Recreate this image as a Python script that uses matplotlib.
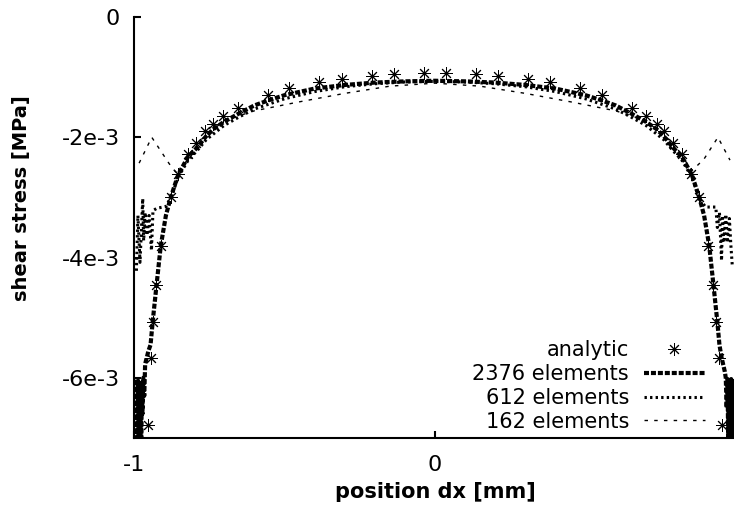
import matplotlib
matplotlib.use("Agg")
import matplotlib.pyplot as plt
from matplotlib.ticker import FixedLocator, FixedFormatter

plt.rcParams['font.family'] = ['DejaVu Sans']
plt.rcParams['axes.unicode_minus'] = False
plt.rcParams['lines.scale_dashes'] = False

# ---- data (stress values in 1e-3 MPa) ----
analytic_x = [-0.954, -0.945, -0.938, -0.927, -0.911, -0.878, -0.853, -0.820, -0.794, -0.764,
              -0.739, -0.703, -0.655, -0.556, -0.484, -0.384, -0.310, -0.210, -0.136, -0.037,
              0.036, 0.135, 0.209, 0.309, 0.382, 0.482, 0.555, 0.655, 0.702, 0.736,
              0.761, 0.791, 0.819, 0.850, 0.878, 0.907, 0.924, 0.935, 0.944, 0.954]
analytic_y = [-6.78, -5.67, -5.07, -4.45, -3.81, -3.00, -2.61, -2.27, -2.09, -1.895,
              -1.772, -1.645, -1.505, -1.303, -1.188, -1.088, -1.038, -0.978, -0.950, -0.938,
              -0.938, -0.950, -0.980, -1.038, -1.088, -1.188, -1.300, -1.505, -1.650, -1.772,
              -1.895, -2.090, -2.272, -2.617, -2.995, -3.812, -4.455, -5.070, -5.670, -6.780]

e2376_x = [-0.992, -0.990, -0.988, -0.986, -0.984, -0.982, -0.980, -0.978, -0.976, -0.974,
           -0.972, -0.969, -0.966, -0.963, -0.952, -0.945, -0.938, -0.925, -0.911, -0.894,
           -0.878, -0.853, -0.820, -0.790, -0.760, -0.735, -0.700, -0.650, -0.600, -0.550,
           -0.500, -0.400, -0.300, -0.200, -0.100, 0.000, 0.100, 0.200, 0.300, 0.400,
           0.500, 0.550, 0.600, 0.650, 0.700, 0.735, 0.760, 0.790, 0.820, 0.853,
           0.878, 0.894, 0.911, 0.925, 0.938, 0.945, 0.952, 0.963, 0.966, 0.969,
           0.972, 0.974, 0.976, 0.978, 0.980, 0.982, 0.984, 0.986, 0.988, 0.990]
e2376_y = [-7.05, -6.02, -7.05, -6.05, -7.05, -6.05, -7.05, -6.1, -7.05, -6.1,
           -6.6, -6.0, -6.3, -5.77, -5.55, -5.45, -5.07, -4.45, -3.80, -3.30,
           -3.00, -2.62, -2.32, -2.17, -1.98, -1.86, -1.74, -1.60, -1.47, -1.38,
           -1.30, -1.19, -1.13, -1.09, -1.07, -1.06, -1.07, -1.09, -1.13, -1.19,
           -1.30, -1.38, -1.47, -1.60, -1.74, -1.86, -1.98, -2.17, -2.32, -2.62,
           -3.00, -3.30, -3.80, -4.45, -5.07, -5.45, -5.66, -5.90, -6.0, -6.5,
           -6.02, -7.05, -6.05, -7.05, -6.05, -7.05, -6.02, -7.05, -6.05, -7.05]

e612_x = [-0.992, -0.987, -0.980, -0.977, -0.971, -0.968, -0.963, -0.957, -0.950, -0.942,
          -0.937, -0.924, -0.894, -0.878, -0.853, -0.820, -0.790, -0.760, -0.700, -0.650,
          -0.600, -0.500, -0.400, -0.300, -0.200, -0.100, 0.000, 0.100, 0.200, 0.300,
          0.400, 0.500, 0.600, 0.650, 0.700, 0.760, 0.790, 0.820, 0.853, 0.878,
          0.899, 0.933, 0.938, 0.945, 0.952, 0.955, 0.960, 0.966, 0.972, 0.978,
          0.983, 0.988]
e612_y = [-4.22, -3.30, -4.08, -3.72, -3.02, -3.72, -3.25, -3.63, -3.30, -3.88,
          -3.22, -3.18, -3.15, -3.02, -2.66, -2.38, -2.22, -2.04, -1.80, -1.66,
          -1.53, -1.36, -1.24, -1.16, -1.11, -1.08, -1.07, -1.08, -1.11, -1.16,
          -1.24, -1.36, -1.53, -1.66, -1.80, -2.04, -2.22, -2.38, -2.66, -3.02,
          -3.16, -3.16, -3.50, -3.25, -4.05, -3.30, -3.75, -3.28, -3.75, -3.35,
          -3.80, -4.16]

e162_x = [-0.983, -0.941, -0.883, -0.855, -0.780, -0.700, -0.600, -0.450, -0.300, -0.150,
          0.000, 0.150, 0.300, 0.450, 0.600, 0.700, 0.780, 0.855, 0.894, 0.940,
          0.980]
e162_y = [-2.43, -2.00, -2.44, -2.62, -2.05, -1.72, -1.56, -1.41, -1.27, -1.15,
          -1.10, -1.15, -1.27, -1.41, -1.56, -1.72, -2.05, -2.55, -2.36, -2.00,
          -2.38]

ytick_vals = [0, -2, -4, -6]
ytick_labels = ['0', '-2e-3', '-4e-3', '-6e-3']
xtick_vals = [-1, 0]
xtick_labels = ['-1', '0']

FS = 15

fig = plt.figure(figsize=(7.34, 5.12), dpi=100)
ax = fig.add_axes([134 / 734, 1 - 438 / 512, 602 / 734, 421 / 512])

ax.plot(analytic_x, analytic_y, linestyle='none', marker=(8, 2, 0), markersize=9,
        markeredgewidth=0.7, color='black', label='analytic')
ax.plot(e2376_x, e2376_y, color='black', linewidth=3.0, dashes=(3.6, 1.4),
        label='2376 elements')
ax.plot(e612_x, e612_y, color='black', linewidth=2.2, dashes=(1.7, 2.3),
        label='612 elements')
ax.plot(e162_x, e162_y, color='black', linewidth=1.0, dashes=(2.5, 4.5),
        label='162 elements')

ax.set_xlim(-1, 1)
ax.set_ylim(-7.0, 0)

for s in ['top', 'right']:
    ax.spines[s].set_visible(False)
for s in ['left', 'bottom']:
    ax.spines[s].set_linewidth(1.5)

ax.xaxis.set_major_locator(FixedLocator(xtick_vals))
ax.xaxis.set_major_formatter(FixedFormatter(xtick_labels))
ax.yaxis.set_major_locator(FixedLocator(ytick_vals))
ax.yaxis.set_major_formatter(FixedFormatter(ytick_labels))
ax.tick_params(axis='both', direction='in', length=5, width=1.5, labelsize=16)
ax.tick_params(axis='y', pad=10)
ax.tick_params(axis='x', pad=12)

ax.set_xlabel('position dx [mm]', fontsize=FS, fontweight='bold')
ax.set_ylabel('shear stress [MPa]', fontsize=14, fontweight='bold')
ax.xaxis.set_label_coords(0.5, -0.105)
ax.yaxis.set_label_coords(-0.171, 0.57)

leg = ax.legend(loc='lower right', bbox_to_anchor=((705 - 134) / 602, 0.015),
                frameon=False, markerfirst=False, fontsize=FS, handlelength=2.95,
                handletextpad=0.7, labelspacing=0.18, borderpad=0, borderaxespad=0,
                numpoints=1)

fig.savefig('out.png', dpi=100)
